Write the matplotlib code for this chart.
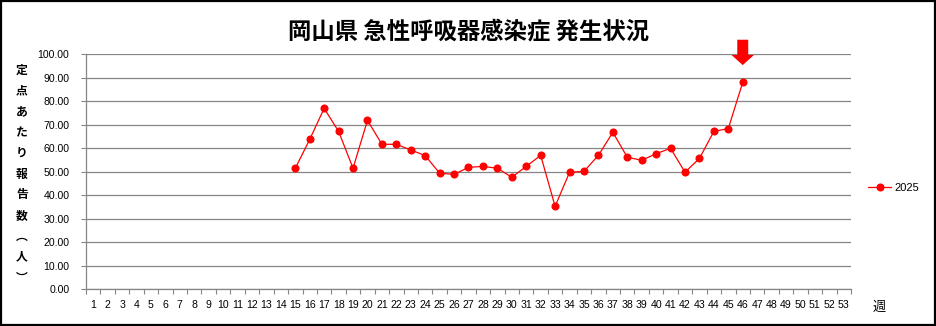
"""Okayama acute respiratory infection weekly report chart (2025)."""
import matplotlib
matplotlib.use("Agg")
import matplotlib.pyplot as plt
from matplotlib.patches import FancyArrow, Rectangle

plt.rcParams['font.family'] = ['Noto Sans CJK JP', 'DejaVu Sans']

# Data
TITLE = "岡山県 急性呼吸器感染症 発生状況"
Y_LABEL = "定点あたり報告数︵人︶"
X_UNIT = "週"
SERIES_NAME = "2025"
week_labels = [str(w) for w in range(1, 54)]
weeks = list(range(15, 47))
values = [51.5, 63.8, 77.0, 67.2, 51.5, 71.9, 61.7, 61.7, 59.3, 56.9,
          49.4, 48.9, 51.9, 52.3, 51.5, 47.7, 52.3, 57.0, 35.3, 49.8,
          50.2, 57.0, 66.8, 56.2, 54.9, 57.7, 60.0, 49.8, 55.7, 67.2,
          68.4, 88.1]
y_ticks = [0, 10, 20, 30, 40, 50, 60, 70, 80, 90, 100]

RED = "#FF0000"
GRID = "#868686"
TICK_FONT = "Liberation Sans"

fig = plt.figure(figsize=(9.37, 3.26), dpi=100)
ax = fig.add_axes([86 / 937, 1 - 289.3 / 326, 765 / 937, 235 / 326])

line, = ax.plot(weeks, values, color=RED, lw=0.9, marker="o", ms=4.8,
                markerfacecolor=RED, markeredgecolor=RED, label=SERIES_NAME)

ax.set_xlim(0.5, len(week_labels) + 0.5)
ax.set_ylim(y_ticks[0], y_ticks[-1])

# category boundaries get the tick marks, labels sit in the middle
ax.set_xticks([i + 0.5 for i in range(0, len(week_labels) + 1)])
ax.set_xticklabels([])
ax.set_xticks(range(1, len(week_labels) + 1), minor=True)
ax.set_xticklabels(week_labels, minor=True, fontsize=7.6, family=TICK_FONT)
ax.tick_params(axis="x", which="major", direction="out", length=3.5,
               color=GRID, width=0.8)
ax.tick_params(axis="x", which="minor", length=0, pad=8)

ax.set_yticks(y_ticks)
ax.set_yticklabels([f"{v:.2f}" for v in y_ticks], fontsize=7.6, family=TICK_FONT)
ax.tick_params(axis="y", direction="out", length=3.5, color=GRID, width=0.8, pad=8.5)

ax.grid(axis="y", color=GRID, lw=0.9)
ax.set_axisbelow(True)
for side in ("top", "right"):
    ax.spines[side].set_visible(False)
for side in ("left", "bottom"):
    ax.spines[side].set_color(GRID)
    ax.spines[side].set_linewidth(0.9)

# arrow above the latest week
ax.add_patch(FancyArrow(weeks[-1], 106.2, 0, -10.8, width=0.76, head_width=1.55,
                        head_length=4.3, length_includes_head=True,
                        color=RED, clip_on=False, lw=0))

fig.text(469 / 937, 1 - 31 / 326, TITLE, ha="center", va="center",
         fontsize=16.8, fontweight="bold")
fig.text(22 / 937, 1 - 174 / 326, "\n".join(Y_LABEL), ha="center", va="center",
         fontsize=8.5, fontweight="bold", linespacing=1.78)
fig.text(879 / 937, 1 - 307 / 326, X_UNIT, ha="center", va="center", fontsize=9.5)

fig.legend(handles=[line], loc="center left", bbox_to_anchor=(868 / 937, 1 - 188 / 326),
           frameon=False, handlelength=2.1, handletextpad=0.25,
           borderaxespad=0, borderpad=0, prop={"family": TICK_FONT, "size": 8})

fig.patches.append(Rectangle((0.001, 0.003), 0.997, 0.994, transform=fig.transFigure,
                             fill=False, edgecolor="black", lw=1.6))

fig.savefig("out.png", dpi=100)
